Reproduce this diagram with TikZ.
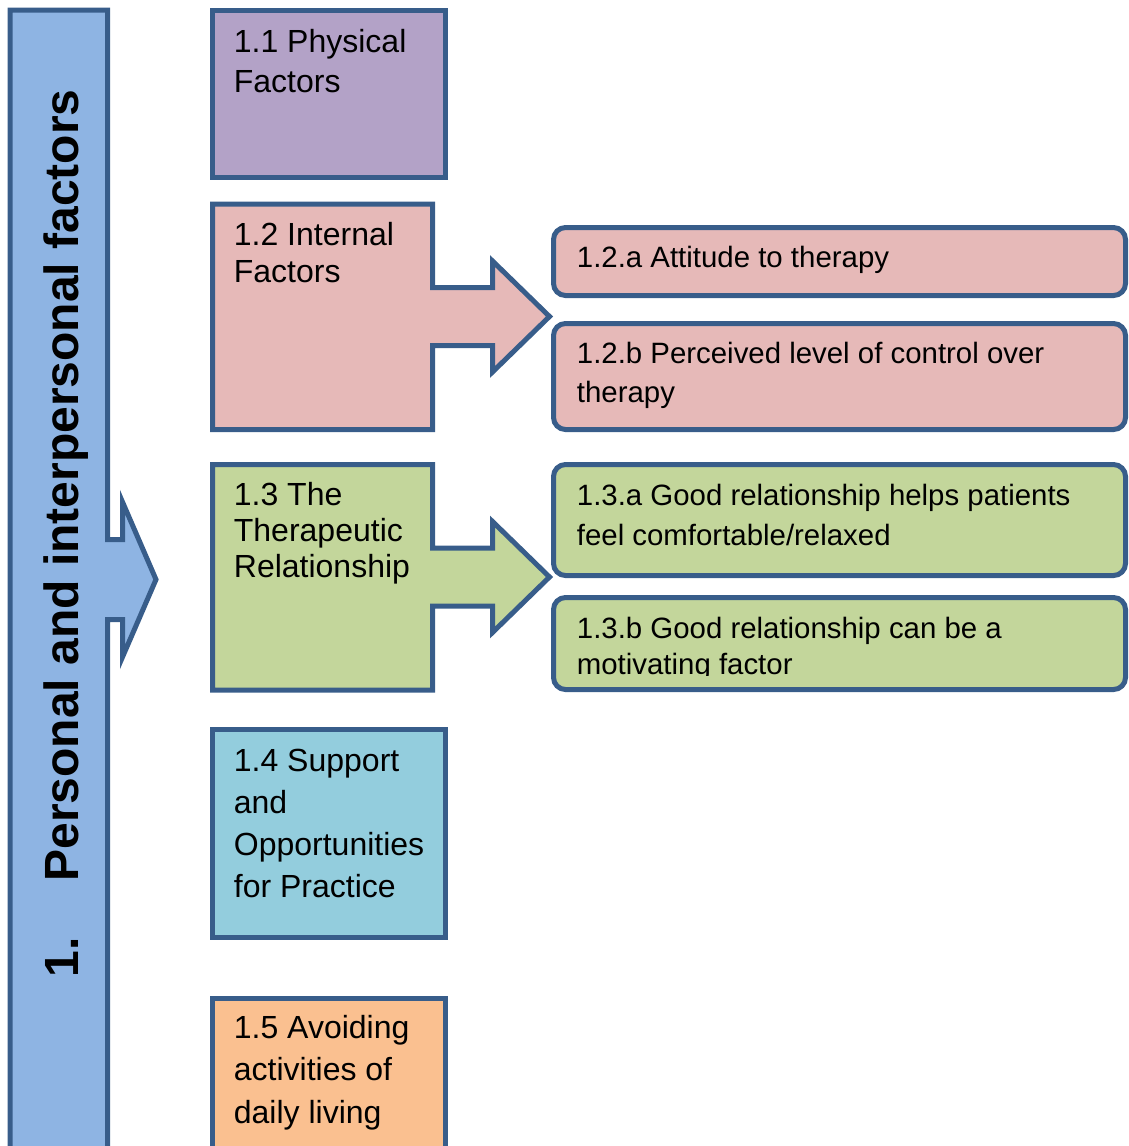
\documentclass[tikz,border=0pt]{standalone}
\usepackage{fontspec}
\setmainfont{Liberation Sans}
\definecolor{edgeblue}{HTML}{385D8A}
\definecolor{barblue}{HTML}{8EB4E3}
\definecolor{physpurple}{HTML}{B3A2C7}
\definecolor{intpink}{HTML}{E6B9B8}
\definecolor{relgreen}{HTML}{C3D69B}
\definecolor{suppcyan}{HTML}{93CDDD}
\definecolor{avoidorange}{HTML}{FAC090}
\begin{document}
\begin{tikzpicture}[x=0.5pt,y=-0.5pt,
  shapeline/.style={draw=edgeblue,line width=2.5pt,line join=miter},
  subbox/.style={shapeline,rounded corners=6pt},
  boxtext/.style={anchor=base west,align=left,inner sep=0pt,font=\fontsize{16}{#1}\selectfont},
  subtext/.style={anchor=base west,align=left,inner sep=0pt,font=\fontsize{14.7}{#1}\selectfont}]
 \useasboundingbox (0,0) rectangle (1129,1146);
 % main bar
 \draw[shapeline,fill=barblue](10,10)--(107.5,10)--(107.5,539.5)--(122.5,539.5)--(122.5,502)--(156,579.5)--(122.5,657)--(122.5,619.5)--(107.5,619.5)--(107.5,1170)--(10,1170)--cycle;
 \node[rotate=90,anchor=base west,inner sep=0pt,font=\fontsize{24}{28}\selectfont\bfseries] (bartext) at (78,978) {1.\hspace{28pt}Personal and interpersonal factors};
 % left column (text anchored on last line)
 \draw[shapeline,fill=physpurple](212.5,10.5) rectangle (445.5,177.5);
 \draw[shapeline,fill=intpink](212.5,204)--(432.5,204)--(432.5,287.5)--(492.5,287.5)--(492.5,261)--(549.5,316.5)--(492.5,372)--(492.5,345.5)--(432.5,345.5)--(432.5,429.5)--(212.5,429.5)--cycle;
 \draw[shapeline,fill=relgreen](212.5,464.5)--(432.5,464.5)--(432.5,548)--(492.5,548)--(492.5,521.5)--(549.5,577)--(492.5,632.5)--(492.5,606)--(432.5,606)--(432.5,690)--(212.5,690)--cycle;
 \draw[shapeline,fill=suppcyan](212.5,729.5) rectangle (445.5,937.5);
 \draw[shapeline,fill=avoidorange](212.5,998.5) rectangle (445.5,1170);
 \node[boxtext=20] (phys) at (233.5,92) {1.1 Physical\\Factors};
 \node[boxtext=18.5] (internal) at (233.5,282) {1.2 Internal\\Factors};
 \node[boxtext=18] (relation) at (233.5,577) {1.3 The\\Therapeutic\\Relationship};
 \node[boxtext=21] (support) at (233.5,897) {1.4 Support\\and\\Opportunities\\for Practice};
 \node[boxtext=21.25] (avoid) at (233.5,1123) {1.5 Avoiding\\activities of\\daily living};
 % right column
 \draw[subbox,fill=intpink](553.5,227.5) rectangle (1125.5,295.5);
 \draw[subbox,fill=intpink](553.5,323.5) rectangle (1125.5,429.5);
 \draw[subbox,fill=relgreen](553.5,464.5) rectangle (1125.5,575.5);
 \draw[subbox,fill=relgreen](553.5,597.5) rectangle (1125.5,689.5);
 \node[subtext=19.5] (attitude) at (576.5,267) {1.2.a Attitude to therapy};
 \node[subtext=19.5] (control) at (576.5,402) {1.2.b Perceived level of control over\\therapy};
 \node[subtext=20] (comfort) at (576.5,545) {1.3.a Good relationship helps patients\\feel comfortable/relaxed};
 \begin{scope}
  \clip (556,600) rectangle (1123,675);
  \node[subtext=18] (motivate) at (576.5,674) {1.3.b Good relationship can be a\\motivating factor};
 \end{scope}
\end{tikzpicture}
\end{document}
